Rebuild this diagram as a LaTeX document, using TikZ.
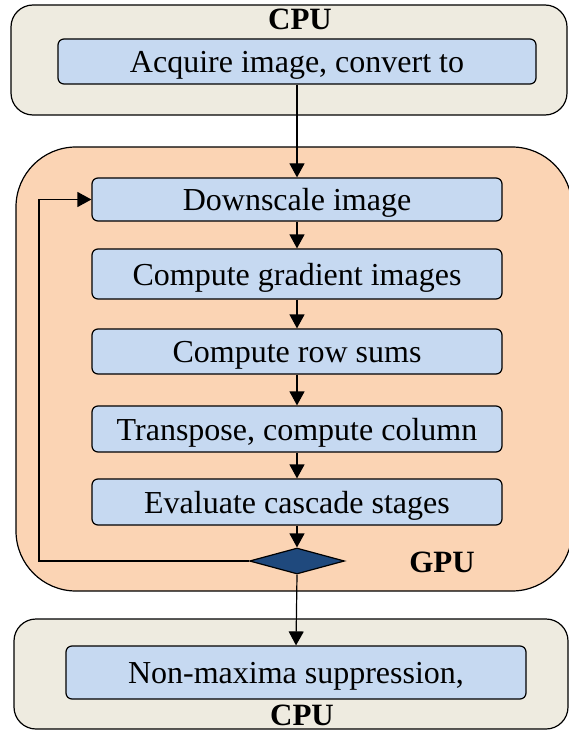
\documentclass[tikz,border=0pt]{standalone}
\usepackage{fontspec}
\setmainfont{LiberationSerif}[Extension=.ttf, UprightFont=*-Regular, BoldFont=*-Bold]
\usepackage{tikz}
\usetikzlibrary{shapes.geometric, arrows.meta, positioning}
\definecolor{cpufill}{HTML}{EEEBE0}
\definecolor{gpufill}{HTML}{FBD4B4}
\definecolor{stepfill}{HTML}{C6D9F1}
\definecolor{decfill}{HTML}{1F497D}
\tikzset{
    region/.style={rectangle, draw, line width=1.2pt, rounded corners=22pt},
    box/.style={rectangle, draw, fill=stepfill, line width=1.2pt, rounded corners=6pt, align=center, text depth=0pt, font=\fontsize{32}{36}\selectfont},
    decision/.style={diamond, draw, fill=decfill, line width=1.2pt, inner sep=0pt, minimum width=95pt, minimum height=26pt, aspect=3.6},
    label/.style={font=\fontsize{31}{36}\selectfont\bfseries, anchor=base},
    arrow/.style={-{Triangle[length=14pt, width=15pt]}, line width=1.2pt},
    line/.style={line width=1.2pt}
}

\begin{document}
\begin{tikzpicture}[x=1pt, y=-1pt]
    \useasboundingbox (0,0) rectangle (568,730);
    % CPU (top)
    \node[region, fill=cpufill, minimum width=556pt, minimum height=110pt] (cpu_top) at (289,60) {};
    \node[label] (cpu_top_label) at (300,30) {CPU};
    \node[box, minimum width=478pt, minimum height=45pt] (acquire) at (297,61.5) {Acquire image, convert to};

    % GPU
    \node[region, fill=gpufill, rounded corners=60pt, minimum width=556pt, minimum height=444pt] (gpu) at (294,369) {};
    \node[label] (gpu_label) at (442,572) {GPU};
    \node[box, minimum width=410pt, minimum height=43pt] (downscale) at (297,199.5) {Downscale image};
    \node[box, minimum width=410pt, minimum height=50pt] (gradient) at (297,274) {Compute gradient images};
    \node[box, minimum width=410pt, minimum height=45pt] (rowsums) at (297,351.5) {Compute row sums};
    \node[box, minimum width=410pt, minimum height=46pt] (transpose) at (297,429) {Transpose, compute column};
    \node[box, minimum width=410pt, minimum height=46pt] (evaluate) at (297,502) {Evaluate cascade stages};
    \node[decision] (more) at (297,561) {};
    \coordinate (loop_x) at (39,0);

    % CPU (bottom)
    \node[region, fill=cpufill, minimum width=554pt, minimum height=110pt] (cpu_bot) at (291,674) {};
    \node[box, minimum width=460pt, minimum height=53pt] (nms) at (296,672.5) {Non-maxima suppression,};
    \node[label] (cpu_bot_label) at (302,725) {CPU};

    % connectors
    \draw[arrow] (acquire.south) -- (downscale.north);
    \draw[arrow] (downscale.south) -- (gradient.north);
    \draw[arrow] (gradient.south) -- (rowsums.north);
    \draw[arrow] (rowsums.south) -- (transpose.north);
    \draw[arrow] (transpose.south) -- (evaluate.north);
    \draw[arrow] (evaluate.south) -- (more.north);
    \draw[arrow] (more.south) -- (nms.north);
    \draw[arrow] (more.west) -- (more.west -| loop_x) |- (downscale.west);
\end{tikzpicture}
\end{document}
